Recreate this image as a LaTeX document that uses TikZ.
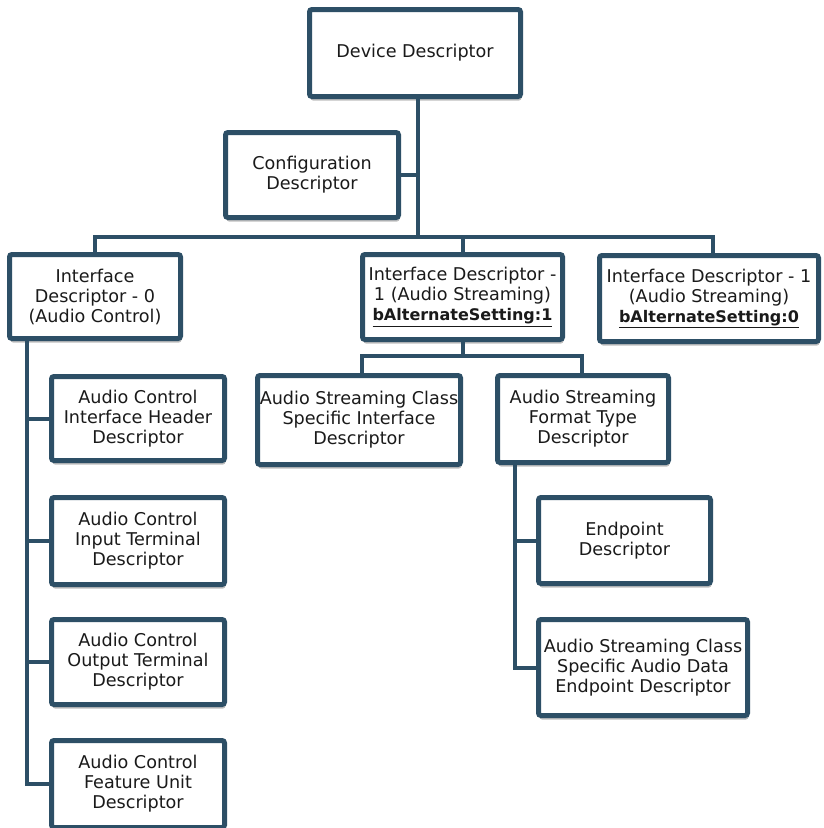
\documentclass[tikz,border=0pt]{standalone}
\usepackage{fontspec}
\setmainfont{DejaVu Sans}
\usetikzlibrary{shadows}
\definecolor{bord}{HTML}{2D4F66}
\definecolor{txt}{HTML}{1A1A1A}
\newcommand{\bx}[6]{%
  \node[descbox, minimum width={(#4)-(#2)-5}, minimum height={(#5)-(#3)-5}]
    (#1) at ({((#2)+(#4))/2},{((#3)+(#5))/2}) {#6};}
\newcommand{\alt}[1]{{\fontsize{16}{20}\selectfont\underline{\textbf{#1}}}}
\begin{document}
\begin{tikzpicture}[x=1pt,y=-1pt,
  descbox/.style={draw=bord, line width=5pt, rounded corners=2.5pt, fill=white,
    inner sep=0pt, align=center, text=txt,
    font=\fontsize{17.6}{20}\selectfont,
    drop shadow={shadow xshift=1pt, shadow yshift=-4pt, opacity=0.25, fill=black}},
  conn/.style={draw=bord, line width=4pt}]
\useasboundingbox (0,0) rectangle (823,828);
\fill[white] (0,0) rectangle (823,828);
% junction coordinates
\coordinate (bus) at (418,237);
\coordinate (sbus) at (463,356);
\coordinate (lx) at (27,0);
\coordinate (rx) at (515,0);
% boxes
\bx{dev}{307}{7}{523}{99}{Device Descriptor}
\bx{conf}{223}{130}{401}{220}{Configuration\\Descriptor}
\bx{if0}{7}{252}{183}{341}{Interface\\Descriptor - 0\\(Audio Control)}
\bx{if1}{360}{252}{565}{342}{Interface Descriptor -\\1 (Audio Streaming)\\\alt{bAlternateSetting:1}}
\bx{if1b}{597}{253}{821}{344}{Interface Descriptor - 1\\(Audio Streaming)\\\alt{bAlternateSetting:0}}
\bx{ascsid}{255}{373}{463}{467}{Audio Streaming Class\\Specific Interface\\Descriptor}
\bx{asftd}{495}{373}{671}{465}{Audio Streaming\\Format Type\\Descriptor}
\bx{ep}{536}{495}{713}{586}{Endpoint\\Descriptor}
\bx{ascsade}{536}{617}{750}{718}{Audio Streaming Class\\Specific Audio Data\\Endpoint Descriptor}
\bx{ac1}{49}{374}{227}{463}{Audio Control\\Interface Header\\Descriptor}
\bx{ac2}{49}{495}{227}{587}{Audio Control\\Input Terminal\\Descriptor}
\bx{ac3}{49}{617}{227}{707}{Audio Control\\Output Terminal\\Descriptor}
\bx{ac4}{49}{738}{227}{830}{Audio Control\\Feature Unit\\Descriptor}
% main trunk
\draw[conn] (dev.south -| bus) -- (bus);
\draw[conn] (conf.east) -- (conf.east -| bus);
\draw[conn] (if0.north -| 95,0) |- (bus) -| (if1b.north -| 713,0);
\draw[conn] (bus) -| (if1.north -| 463,0);
% streaming subtree
\draw[conn] (if1.south -| sbus) -- (sbus);
\draw[conn] (ascsid.north -| 362,0) |- (sbus) -| (asftd.north -| 582,0);
\draw[conn] (asftd.south -| rx) |- (ascsade.west);
\draw[conn] (ep.west) -- (ep.west -| rx);
% control subtree
\draw[conn] (if0.south -| lx) |- (ac4.west);
\draw[conn] (ac1.west) -- (ac1.west -| lx);
\draw[conn] (ac2.west) -- (ac2.west -| lx);
\draw[conn] (ac3.west) -- (ac3.west -| lx);
\end{tikzpicture}
\end{document}
